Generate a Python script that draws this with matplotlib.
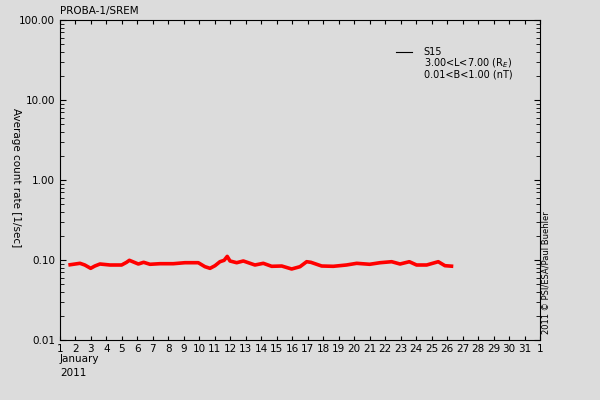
import matplotlib.pyplot as plt
from matplotlib.lines import Line2D

# S15 count rate, January 2011 (day of month, counts/sec)
days = [1.54, 2.29, 2.6, 2.98, 3.25, 3.58, 4.23, 4.98, 5.3, 5.48, 5.7, 6.06,
        6.4, 6.81, 7.46, 8.32, 9.07, 9.93, 10.36, 10.69, 11.01, 11.33, 11.6,
        11.8, 11.98, 12.41, 12.84, 13.59, 14.13, 14.67, 15.32, 15.96, 16.5,
        16.93, 17.2, 17.9, 18.65, 19.5, 20.16, 21.0, 21.67, 22.42, 22.96,
        23.56, 24.03, 24.68, 25.43, 25.86, 26.4]
rate = [0.0866, 0.0909, 0.0866, 0.0787, 0.0841, 0.0891, 0.0866, 0.0866,
        0.0936, 0.0991, 0.0952, 0.0891, 0.0936, 0.0884, 0.0899, 0.0899,
        0.0925, 0.0925, 0.0825, 0.0787, 0.0849, 0.0952, 0.0991, 0.111,
        0.0972, 0.0925, 0.0972, 0.0866, 0.0909, 0.0834, 0.0841, 0.0772,
        0.0825, 0.0952, 0.0936, 0.0841, 0.0834, 0.0866, 0.0909, 0.0884,
        0.0925, 0.0952, 0.0891, 0.0952, 0.0866, 0.0866, 0.0952, 0.0849,
        0.0834]

xticks = list(range(1, 33))
xlabels = [str(d) for d in range(1, 32)] + ['1']
yticks = [0.01, 0.1, 1, 10, 100]
ylabels = ['0.01', '0.10', '1.00', '10.00', '100.00']

bg = '#dcdcdc'
plt.rcParams['font.family'] = ['DejaVu Sans']
plt.rcParams['font.size'] = 7.5

fig = plt.figure(figsize=(6, 4), dpi=100, facecolor=bg)
ax = fig.add_axes([0.1, 0.15, 0.8, 0.8])
ax.set_facecolor(bg)

ax.plot(days, rate, color='red', lw=2.6, solid_capstyle='butt')

ax.set_yscale('log')
ax.set_xlim(1, 32)
ax.set_ylim(0.01, 100)
ax.set_xticks(xticks)
ax.set_xticklabels(xlabels)
ax.set_yticks(yticks)
ax.set_yticklabels(ylabels)
ax.tick_params(which='both', direction='in', top=True, right=True, colors='black')
ax.tick_params(axis='y', which='major', length=4.5)
ax.tick_params(axis='y', which='minor', length=3)
ax.tick_params(axis='x', which='major', length=3, pad=3)
ax.tick_params(axis='y', which='minor', labelleft=False)
for s in ax.spines.values():
    s.set_color('black')
    s.set_linewidth(0.8)

# y label sits well left of the tick labels, reading top to bottom
fig.text(0.027, 0.555, 'Average count rate [1/sec]', rotation=-90,
         ha='center', va='center')

fig.text(0.1, 0.985, 'PROBA-1/SREM', ha='left', va='top')
fig.text(0.1, 0.115, 'January', ha='left', va='top')
fig.text(0.1, 0.08, '2011', ha='left', va='top')
fig.text(0.91, 0.165, '2011 \u00a9 PSI/ESA/Paul Buehler', rotation=90,
         ha='center', va='bottom', fontsize=6)

# legend drawn by hand, as in the original
ax.add_line(Line2D([0.7, 0.734], [0.9, 0.9], transform=ax.transAxes,
                   color='black', lw=0.8))
ax.text(0.758, 0.9, 'S15', transform=ax.transAxes, va='center', fontsize=7)
ax.text(0.758, 0.866, '3.00<L<7.00 (R$_E$)', transform=ax.transAxes,
        va='center', fontsize=7)
ax.text(0.758, 0.830, '0.01<B<1.00 (nT)', transform=ax.transAxes,
        va='center', fontsize=7)

fig.savefig('out.png', dpi=100, facecolor=bg)
